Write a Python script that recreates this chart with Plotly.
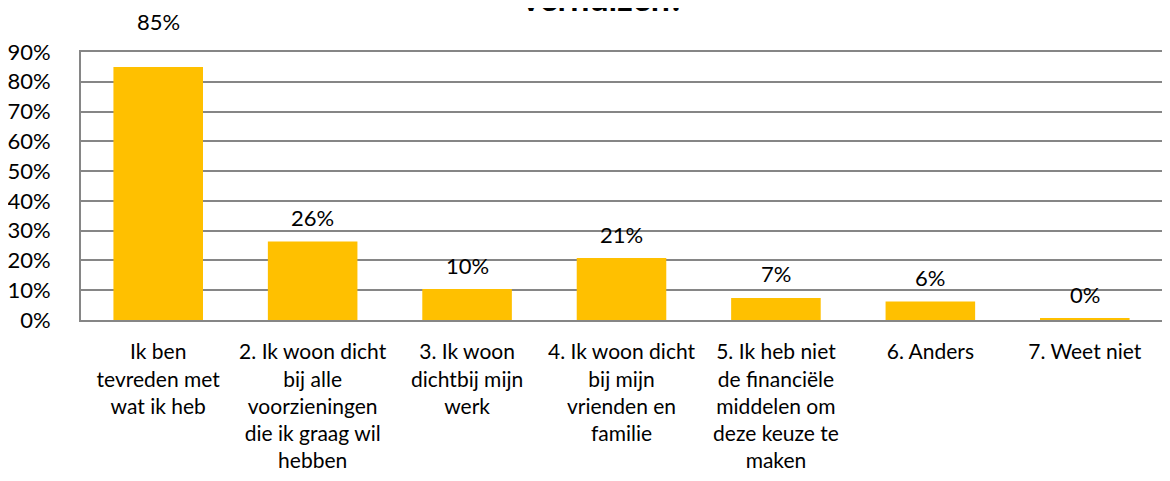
import plotly.graph_objects as go

categories = [
    "Ik ben<br>tevreden met<br>wat ik heb",
    "2. Ik woon dicht<br>bij alle<br>voorzieningen<br>die ik graag wil<br>hebben",
    "3. Ik woon<br>dichtbij mijn<br>werk",
    "4. Ik woon dicht<br>bij mijn<br>vrienden en<br>familie",
    "5. Ik heb niet<br>de financiële<br>middelen om<br>deze keuze te<br>maken",
    "6. Anders",
    "7. Weet niet",
]
values = [0.85, 0.264, 0.104, 0.208, 0.074, 0.062, 0.004]
tick_vals = [0, 0.1, 0.2, 0.3, 0.4, 0.5, 0.6, 0.7, 0.8, 0.9]
tick_text = ["0%", "10%", "20%", "30%", "40%", "50%", "60%", "70%", "80%", "90%"]
title_text = "verhuizen?"

FONT = "Lato"
fig = go.Figure(go.Bar(
    x=categories, y=values,
    marker=dict(color="#FFC000", line=dict(width=0)),
    cliponaxis=False,
))

annotations = []
for c, v in zip(categories, values):
    annotations.append(dict(
        x=c, y=v, xref="x", yref="y", text=f"{round(v * 100)}%",
        showarrow=False, yanchor="middle", xanchor="center",
        yshift=45 if v > 0.8 else 24,
        font=dict(family=FONT, size=22, color="#000000"),
    ))
annotations.append(dict(
    text="<b>" + title_text + "</b>", xref="paper", yref="paper",
    x=0.483, y=1.0, yshift=32, xanchor="center", yanchor="bottom",
    showarrow=False, font=dict(family=FONT, size=34, color="#000000"),
))

fig.update_layout(
    width=1154, height=465,
    margin=dict(l=73, r=0, t=44, b=153, autoexpand=False),
    paper_bgcolor="white", plot_bgcolor="white",
    bargap=0.42, showlegend=False,
    font=dict(family=FONT, size=21, color="#000000"),
    xaxis=dict(showgrid=False, showline=True, linecolor="#868686", linewidth=2,
               tickfont=dict(family=FONT, size=21), ticks="", mirror=True,
               ticklabelstandoff=12, automargin=False),
    yaxis=dict(range=[0, 0.9], tickvals=tick_vals, ticktext=tick_text,
               showgrid=True, gridcolor="#868686", gridwidth=1.5,
               showline=True, linecolor="#868686", linewidth=2, mirror=True,
               ticks="", zeroline=False, tickfont=dict(family=FONT, size=22),
               ticklabelstandoff=24, automargin=False),
    annotations=annotations,
)
fig.write_html("out.html")
